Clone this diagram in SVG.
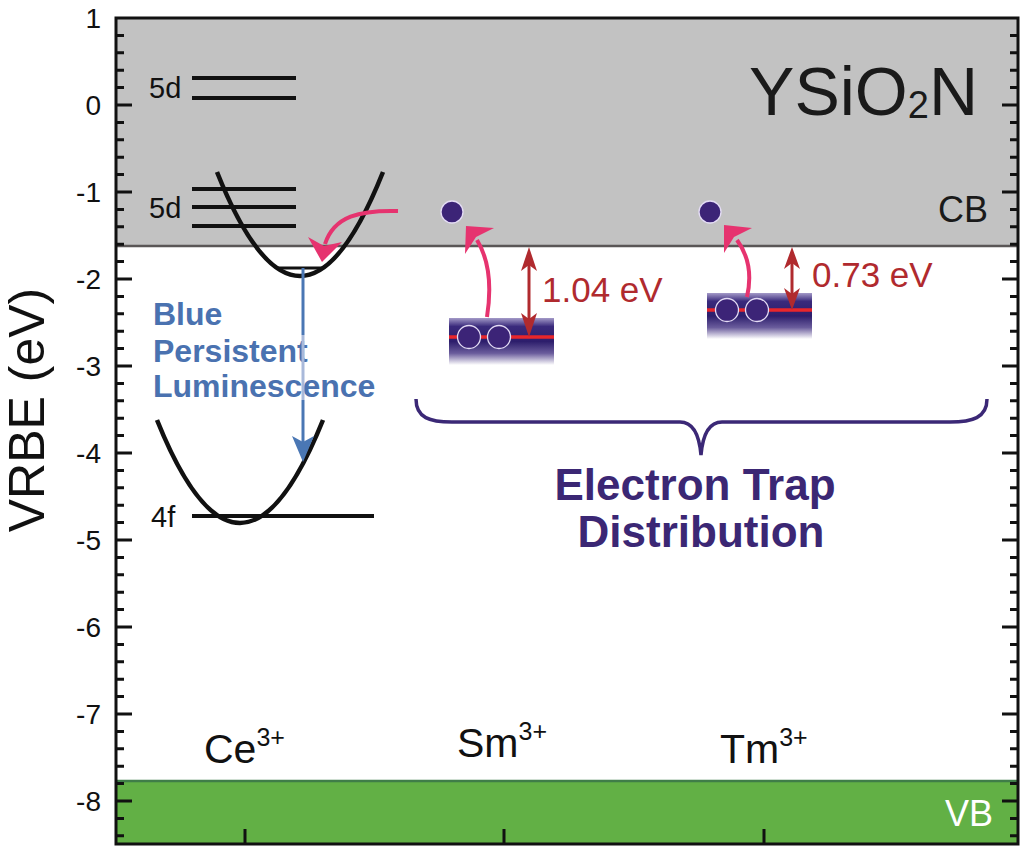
<svg xmlns="http://www.w3.org/2000/svg" xmlns:xlink="http://www.w3.org/1999/xlink" width="1024" height="853" viewBox="0 0 1024 853">
<style>
text{font-family:"Liberation Sans",Arial,sans-serif;}
.tick{stroke:#111;stroke-width:3;fill:none;}
.lab{font-size:28px;fill:#111;text-anchor:end;}
.lvl{stroke:#111;stroke-width:4;fill:none;}
.para{stroke:#111;stroke-width:4.5;fill:none;}
.pink{stroke:#e6336f;stroke-width:4;fill:none;}
.pinkh{fill:#e6336f;}
.red{stroke:#b02a2e;stroke-width:3;fill:none;}
.redh{fill:#b02a2e;}
.el{fill:#3c2477;stroke:#e4dcf5;stroke-width:1.3;}
.trapline{stroke:#e8262b;stroke-width:3.5;}
.ion{font-size:41px;fill:#111;}
.ev{font-size:35px;fill:#b02a2e;}
.st{font-size:29px;fill:#111;}
</style>
<defs>
<linearGradient id="trapg" x1="0" y1="0" x2="0" y2="1">
<stop offset="0" stop-color="#a49ac8"/>
<stop offset="0.18" stop-color="#3a2a7c"/>
<stop offset="0.5" stop-color="#2d1e6c"/>
<stop offset="0.75" stop-color="#6a5c9c"/>
<stop offset="1" stop-color="#ffffff"/>
</linearGradient>
<g id="ticks">
<path class="tick" d="M0 35.4h8M0 52.8h8M0 70.2h8M0 87.6h8M0 122.4h8M0 139.8h8M0 157.2h8M0 174.6h8M0 209.4h8M0 226.8h8M0 244.2h8M0 261.6h8M0 296.4h8M0 313.8h8M0 331.2h8M0 348.6h8M0 383.4h8M0 400.8h8M0 418.2h8M0 435.6h8M0 470.4h8M0 487.8h8M0 505.2h8M0 522.6h8M0 557.4h8M0 574.8h8M0 592.2h8M0 609.6h8M0 644.4h8M0 661.8h8M0 679.2h8M0 696.6h8M0 731.4h8M0 748.8h8M0 766.2h8M0 783.6h8M0 818.4h8M0 835.8h8"/>
<path class="tick" d="M0 105h16M0 192h16M0 279h16M0 366h16M0 453h16M0 540h16M0 627h16M0 714h16M0 801h16"/>
</g>
</defs>
<rect x="0" y="0" width="1024" height="853" fill="#ffffff"/>

<g id="bands">
<rect x="116" y="18" width="902" height="228" fill="#c2c2c2"/>
<line x1="116" y1="246" x2="1018" y2="246" stroke="#5a5656" stroke-width="2.5"/>
<rect x="116" y="781" width="902" height="63" fill="#62b045"/>
<line x1="116" y1="781" x2="1018" y2="781" stroke="#3f7d48" stroke-width="2.5"/>
<text x="978" y="115" font-size="68" fill="#1a1a1a" text-anchor="end">YSiO<tspan font-size="38" dy="3">2</tspan><tspan dy="-3">N</tspan></text>
<text x="988" y="222" font-size="36" fill="#1a1a1a" text-anchor="end">CB</text>
<text x="993" y="826" font-size="36" fill="#ffffff" text-anchor="end">VB</text>
</g>

<g id="axes">
<rect x="116" y="18" width="902" height="826" fill="none" stroke="#111" stroke-width="3"/>
<use xlink:href="#ticks" transform="translate(116,0)"/>
<use xlink:href="#ticks" transform="translate(1018,0) scale(-1,1)"/>
<path class="tick" d="M245 844v-15M504 844v-15M764 844v-15"/>
<text class="lab" x="101" y="28">1</text>
<text class="lab" x="101" y="115">0</text>
<text class="lab" x="101" y="202">-1</text>
<text class="lab" x="101" y="289">-2</text>
<text class="lab" x="101" y="376">-3</text>
<text class="lab" x="101" y="463">-4</text>
<text class="lab" x="101" y="550">-5</text>
<text class="lab" x="101" y="637">-6</text>
<text class="lab" x="101" y="724">-7</text>
<text class="lab" x="101" y="811">-8</text>
<text transform="translate(44,410) rotate(-90)" font-size="50" fill="#111" text-anchor="middle">VRBE (eV)</text>
</g>

<g id="ce">
<path class="lvl" d="M192 78H296M192 98H296M192 189H296M192 207H296M192 226H296M192 516H374"/>
<text x="149" y="98" class="st">5d</text>
<text x="149" y="218" class="st">5d</text>
<text x="151" y="527" class="st">4f</text>
<path class="para" d="M217 172Q300 380 383 172"/>
<path d="M277 268H323" stroke="#111" stroke-width="3"/>
<path class="para" d="M157 420Q240 626 323 420"/>
<text x="204" y="763" class="ion">Ce<tspan font-size="25" dy="-17">3+</tspan></text>
<g font-size="32" font-weight="bold" fill="#4a72b0">
<text x="153" y="325">Blue</text>
<text x="153" y="362">Persistent</text>
<text x="153" y="397">Luminescence</text>
</g>
</g>

<g id="sm">
<rect x="449" y="318" width="105" height="47" fill="url(#trapg)"/>
<line class="trapline" x1="449" y1="337" x2="554" y2="337"/>
<circle class="el" cx="469" cy="337" r="11.5"/>
<circle class="el" cx="499" cy="337" r="11.5"/>
<circle class="el" cx="452" cy="212" r="11"/>
<text x="457" y="757" class="ion">Sm<tspan font-size="25" dy="-17">3+</tspan></text>
<text x="542" y="302" class="ev">1.04 eV</text>
</g>

<g id="tm">
<rect x="707" y="293" width="105" height="46" fill="url(#trapg)"/>
<line class="trapline" x1="707" y1="310" x2="812" y2="310"/>
<circle class="el" cx="727" cy="310" r="11.5"/>
<circle class="el" cx="757" cy="310" r="11.5"/>
<circle class="el" cx="710" cy="212" r="11"/>
<text x="720" y="763" class="ion">Tm<tspan font-size="25" dy="-17">3+</tspan></text>
<text x="812" y="287" class="ev">0.73 eV</text>
</g>

<g id="distribution">
<path d="M416 399C416 418 430 422 452 422L680 422C692 422 699 432 701 455C703 432 710 422 722 422L950 422C972 422 987 418 987 399" fill="none" stroke="#3b2876" stroke-width="3.5"/>
<g font-size="44" font-weight="bold" fill="#3b2774" text-anchor="middle">
<text x="695" y="500">Electron Trap</text>
<text x="701" y="547">Distribution</text>
</g>
</g>

<g id="connectors">
<path d="M303 268V335" stroke="#4a77b4" stroke-width="3"/>
<path d="M303 335V400" stroke="#a9b9da" stroke-width="3"/>
<path d="M303 400V444" stroke="#4a77b4" stroke-width="3"/>
<polygon points="303,462 292,436 303,442 314,436" fill="#4a77b4"/>
<path class="pink" d="M398 211C360 210 334 216 325 244"/>
<polygon class="pinkh" points="322,262 308,237 324,246 342,242"/>
<path class="pink" d="M487 317C492 285 488 258 477 240"/>
<polygon class="pinkh" points="466,226 494,228 476,237 465,254"/>
<path class="pink" d="M747 297C752 275 748 255 737 240"/>
<polygon class="pinkh" points="724,225 752,228 734,237 724,253"/>
<path class="red" d="M529 262V322"/>
<polygon class="redh" points="529,247 537,271 529,265 521,271"/>
<polygon class="redh" points="529,337 537,313 529,319 521,313"/>
<path class="red" d="M792 258V298"/>
<polygon class="redh" points="792,247 800,269 792,263 784,269"/>
<polygon class="redh" points="792,310 800,288 792,294 784,288"/>
</g>
</svg>
